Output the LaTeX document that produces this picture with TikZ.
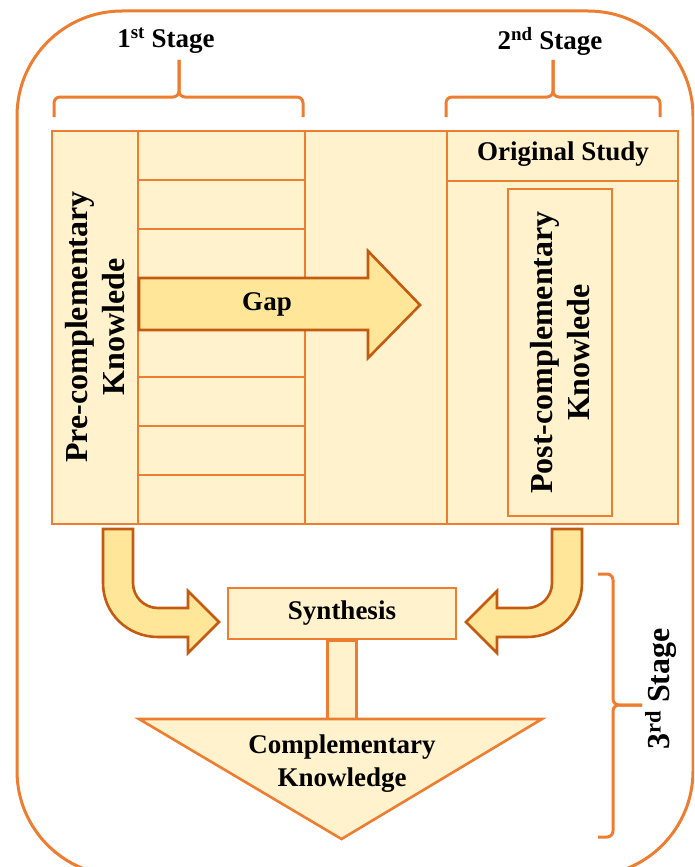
\documentclass[tikz,border=0pt]{standalone}
\usepackage{fontspec}
\setmainfont{Liberation Serif}
\usetikzlibrary{positioning}
\definecolor{lineorange}{HTML}{ED7D31}
\definecolor{darkorange}{HTML}{C55A11}
\definecolor{paleyellow}{HTML}{FFF2CC}
\definecolor{goldyellow}{HTML}{FFE699}
\begin{document}
\begin{tikzpicture}
[x=1pt,y=-1pt,
  celldecorate/.style={draw=lineorange,fill=paleyellow,line width=2pt},%
  boxdecorate/.style={draw=lineorange,fill=paleyellow,line width=2.6pt},%
  arrowdecorate/.style={draw=darkorange,fill=goldyellow,line width=2.6pt,line join=miter},%
  bracedecorate/.style={draw=lineorange,line width=3pt,rounded corners=6pt},%
  textdecorate/.style={font=\fontsize{27}{33}\selectfont\bfseries,align=center,inner sep=0pt},%
  sidedecorate/.style={font=\fontsize{32}{37}\selectfont\bfseries,align=center,inner sep=0pt,rotate=90}]
\useasboundingbox (0,0) rectangle (694,867);
%% outer frame
\begin{scope}
\clip (0,0) rectangle (694,867);
\draw[lineorange,line width=3pt,rounded corners=105pt] (17,11) rectangle (693,876);
\end{scope}
%% stage braces
\draw[bracedecorate] (54,117) -- (54,97) -- (179,97) -- (179,60);
\draw[bracedecorate] (179,60) -- (179,97) -- (303,97) -- (303,117);
\draw[bracedecorate] (446,117) -- (446,97) -- (553,97) -- (553,60);
\draw[bracedecorate] (553,60) -- (553,97) -- (660,97) -- (660,117);
\draw[bracedecorate] (598,574) -- (613,574) -- (613,705) -- (642,705);
\draw[bracedecorate] (642,705) -- (613,705) -- (613,837) -- (598,837);
\node (stage1) at (166,41) [textdecorate] {1\textsuperscript{st} Stage};
\node (stage2) at (550,41) [textdecorate] {2\textsuperscript{nd} Stage};
\node (stage3) at (661,689) [sidedecorate] {3\textsuperscript{rd} Stage};
%% table
\draw[celldecorate] (52,131) rectangle (138,524);
\draw[celldecorate] (138,131) rectangle (305,524);
\draw[celldecorate] (305,131) rectangle (447,524);
\draw[celldecorate] (447,131) rectangle (678,524);
\foreach \row in {1,...,7} {
  \draw[celldecorate] (138,131+49.125*\row) -- (305,131+49.125*\row);
}
\draw[celldecorate] (447,181) -- (678,181);
\node (study) at (563,154) [textdecorate] {Original Study};
\node (post) at (560,352.5) [boxdecorate,minimum width=104,minimum height=327] {};
\node (pre) at (95,327) [sidedecorate] {Pre-complementary\\Knowlede};
\node (postlabel) at (post.center) [sidedecorate] {Post-complementary\\Knowlede};
%% gap arrow
\draw[arrowdecorate] (139,278) -- (368,278) -- (368,251) -- (420,305)
  -- (368,358) -- (368,330) -- (139,330) -- cycle;
\node (gap) at (267,304) [textdecorate] {Gap};
%% bent arrows
\draw[arrowdecorate] (103,529) -- (133,529) -- (133,583)
  .. controls (133,596.8) and (144.2,608) .. (158,608) -- (188,608) -- (188,591)
  -- (219,622) -- (188,653) -- (188,637) -- (158,637)
  .. controls (127.6,637) and (103,613.4) .. (103,583) -- cycle;
\draw[arrowdecorate] (582,529) -- (552,529) -- (552,583)
  .. controls (552,596.8) and (540.8,608) .. (527,608) -- (497,608) -- (497,591)
  -- (466,622) -- (497,653) -- (497,637) -- (527,637)
  .. controls (557.4,637) and (582,613.4) .. (582,583) -- cycle;
%% synthesis and result
\node (synth) at (342,613.5) [boxdecorate,minimum width=228,minimum height=51,textdecorate] {Synthesis};
\coordinate (stemtop) at (synth.south);
\draw[boxdecorate] ([xshift=-14.5pt]stemtop) rectangle ([xshift=14.5pt,yshift=-80pt]stemtop);
\coordinate (triA) at (139,719);
\coordinate (triB) at (542,719);
\coordinate (triC) at (341.5,839);
\draw[boxdecorate,line join=miter] (triA) -- (triB) -- (triC) -- cycle;
\node (result) at (342,764) [textdecorate] {Complementary\\Knowledge};
\end{tikzpicture}
\end{document}
